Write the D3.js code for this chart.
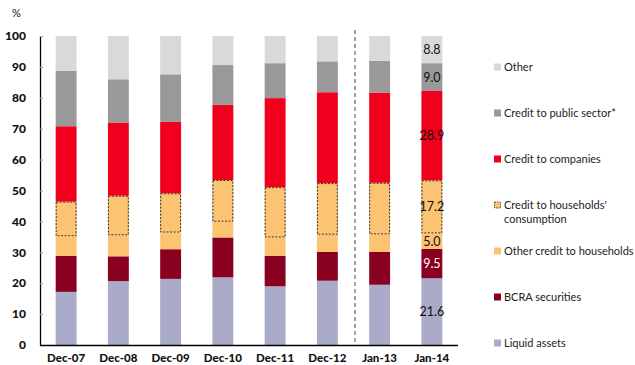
<!DOCTYPE html>
<html>
<head>
<meta charset="utf-8">
<script src="https://cdn.jsdelivr.net/npm/d3@7"></script>
<style>
  html, body { margin: 0; padding: 0; background: #fff; }
  svg { display: block; }
</style>
</head>
<body>
<svg id="chart" width="635" height="365"></svg>
<script>
// Periods on the x axis
const periods = ["Dec-07", "Dec-08", "Dec-09", "Dec-10", "Dec-11", "Dec-12", "Jan-13", "Jan-14"];

// Share of total assets (%) per component, bottom to top of the stack
const liquidAssets      = [17.2, 20.7, 21.4, 21.9, 19.0, 20.8, 19.5, 21.6];
const bcraSecurities    = [11.6,  8.0,  9.6, 12.9,  9.9,  9.3, 10.6,  9.5];
const otherHouseholds   = [ 6.4,  6.8,  5.4,  5.1,  5.9,  5.6,  5.7,  5.0];
const consumption       = [11.2, 12.8, 12.7, 13.5, 16.3, 16.7, 16.7, 17.2];
const companies         = [24.4, 23.7, 23.1, 24.3, 28.8, 29.4, 29.2, 28.9];
const publicSector      = [17.9, 14.0, 15.4, 12.9, 11.3, 10.0, 10.3,  9.0];
const other             = [11.3, 14.0, 12.4,  9.4,  8.8,  8.2,  8.0,  8.8];

const yTicks = [0, 10, 20, 30, 40, 50, 60, 70, 80, 90, 100];

const series = [
  { key: "liquid",    name: "Liquid assets",               values: liquidAssets,    color: "#aaabc8", text: "#111" },
  { key: "bcra",      name: "BCRA securities",             values: bcraSecurities,  color: "#8a0020", text: "#fff" },
  { key: "otherHh",   name: "Other credit to households",  values: otherHouseholds, color: "#fcc373", text: "#111" },
  { key: "consume",   name: ["Credit to households'", "consumption"], values: consumption, color: "#fcc373", text: "#111", dashed: true },
  { key: "companies", name: "Credit to companies",         values: companies,       color: "#f0001c", text: "#111" },
  { key: "public",    name: "Credit to public sector*",    values: publicSector,    color: "#999999", text: "#111" },
  { key: "other",     name: "Other",                       values: other,           color: "#d9d9d9", text: "#111" }
];

// Only the latest period carries value labels
const labelledPeriod = "Jan-14";

const svg = d3.select("#chart");
const font = "'Lato', 'DejaVu Sans', sans-serif";

const x = d3.scaleBand().domain(periods).range([40, 458]).paddingInner(0.6).paddingOuter(0.3);
const y = d3.scaleLinear().domain([0, 100]).range([345, 36]);

// Build stacked table
const table = periods.map((p, i) => {
  const row = { period: p };
  series.forEach(s => { row[s.key] = s.values[i]; });
  return row;
});
const stacked = d3.stack().keys(series.map(s => s.key))(table);

const g = svg.append("g");

stacked.forEach((layer, li) => {
  const s = series[li];
  const grp = g.append("g");
  grp.selectAll("rect")
    .data(layer)
    .join("rect")
    .attr("x", d => x(d.data.period))
    .attr("width", x.bandwidth())
    .attr("y", d => y(d[1]))
    .attr("height", d => y(d[0]) - y(d[1]))
    .attr("fill", s.color);
});

// Dashed outline for the consumption-credit segment
const consLayer = stacked[series.findIndex(s => s.dashed)];
g.append("g").selectAll("rect")
  .data(consLayer)
  .join("rect")
  .attr("x", d => x(d.data.period) + 0.5)
  .attr("width", x.bandwidth() - 1)
  .attr("y", d => y(d[1]) + 0.5)
  .attr("height", d => y(d[0]) - y(d[1]) - 1)
  .attr("fill", "none")
  .attr("stroke", "#333")
  .attr("stroke-width", 1)
  .attr("stroke-dasharray", "2,1.5");

// Value labels on the last bar
stacked.forEach((layer, li) => {
  const s = series[li];
  const d = layer.find(e => e.data.period === labelledPeriod);
  g.append("text")
    .attr("x", x(d.data.period) + x.bandwidth() / 2)
    .attr("y", y((d[0] + d[1]) / 2))
    .attr("dy", "0.36em")
    .attr("text-anchor", "middle")
    .attr("font-family", font)
    .attr("font-size", 12.5)
    .attr("fill", s.text)
    .text(d3.format(".1f")(d[1] - d[0]));
});

// Dashed separator between annual and monthly periods
const sepX = (x("Dec-12") + x.bandwidth() + x("Jan-13")) / 2 + 1.5;
svg.append("line")
  .attr("x1", sepX).attr("x2", sepX)
  .attr("y1", 30).attr("y2", 345)
  .attr("stroke", "#444")
  .attr("stroke-width", 1)
  .attr("stroke-dasharray", "4,3");

// Y axis
const yAxis = d3.axisRight(y).tickValues(yTicks).tickSize(3).tickFormat("");
const ya = svg.append("g").attr("transform", "translate(40,0)").call(yAxis);
ya.select(".domain").attr("stroke", "#000").attr("stroke-width", 1.3).attr("d", `M0.5,${y(100)}V${y(0)}`);
ya.selectAll(".tick line").attr("stroke", "#aaa");

svg.append("g").selectAll("text")
  .data(yTicks)
  .join("text")
  .attr("x", 26)
  .attr("y", d => y(d))
  .attr("dy", "0.35em")
  .attr("text-anchor", "end")
  .attr("font-family", font)
  .attr("font-weight", 900)
  .attr("font-size", 12)
  .attr("fill", "#111")
  .text(d => d);

svg.append("text")
  .attr("x", 12).attr("y", 17)
  .attr("font-family", font)
  .attr("font-size", 11)
  .attr("fill", "#111")
  .text("%");

// X axis
const xAxis = d3.axisBottom(x).tickSize(0).tickPadding(9);
const xa = svg.append("g").attr("transform", `translate(0,${y(0)})`).call(xAxis);
xa.select(".domain").attr("stroke", "#000").attr("stroke-width", 1.3).attr("d", `M40,0.5H458`);
xa.selectAll(".tick text")
  .attr("font-family", font)
  .attr("font-weight", 900)
  .attr("font-size", 11.5)
  .attr("fill", "#111");

// Legend, top to bottom in reverse stack order
const legendY = [67, 113, 159, 205, 251, 297, 343];
const legend = svg.append("g");
series.slice().reverse().forEach((s, i) => {
  const ly = legendY[i];
  legend.append("rect")
    .attr("x", s.dashed ? 494.5 : 494).attr("y", ly - 3.5 + (s.dashed ? 0.5 : 0))
    .attr("width", s.dashed ? 6 : 7).attr("height", s.dashed ? 6 : 7)
    .attr("fill", s.color)
    .attr("stroke", s.dashed ? "#333" : "none")
    .attr("stroke-width", 0.8)
    .attr("stroke-dasharray", s.dashed ? "1.5,1" : null);
  const lines = Array.isArray(s.name) ? s.name : [s.name];
  const t = legend.append("text")
    .attr("font-family", font)
    .attr("font-size", 11)
    .attr("fill", "#222");
  lines.forEach((ln, j) => {
    t.append("tspan")
      .attr("x", 504)
      .attr("y", ly + j * 14.5)
      .attr("dy", "0.35em")
      .text(ln);
  });
});
</script>
</body>
</html>
